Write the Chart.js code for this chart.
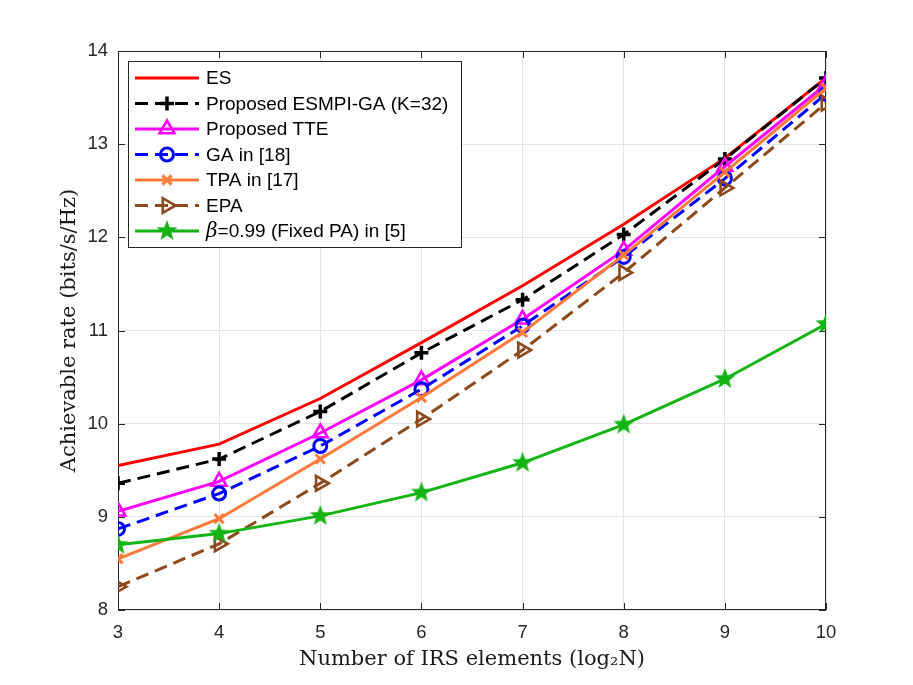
<!DOCTYPE html>
<html>
<head>
<meta charset="utf-8">
<script src="https://cdn.jsdelivr.net/npm/chart.js@4.4.0/dist/chart.umd.min.js"></script>
<style>
  html, body { margin: 0; padding: 0; background: #fff; }
  #wrap { width: 913px; height: 685px; }
</style>
</head>
<body>
<div id="wrap"><canvas id="grafico" width="913" height="685"></canvas></div>
<script>
// valores
const nIRS = [3, 4, 5, 6, 7, 8, 9, 10];
const rateES = [9.55, 9.78, 10.27, 10.87, 11.48, 12.14, 12.85, 13.71];
const rateESMPI = [9.36, 9.62, 10.13, 10.76, 11.33, 12.03, 12.84, 13.71];
const rateTTE = [9.06, 9.38, 9.90, 10.47, 11.12, 11.86, 12.76, 13.64];
const rateGA = [8.87, 9.25, 9.76, 10.37, 11.05, 11.79, 12.63, 13.54];
const rateTPA = [8.55, 8.98, 9.62, 10.28, 10.98, 11.81, 12.70, 13.60];
const rateEPA = [8.25, 8.71, 9.36, 10.05, 10.79, 11.62, 12.53, 13.44];
const rateFixed = [8.70, 8.82, 9.01, 9.26, 9.58, 9.99, 10.48, 11.07];
const yTicks = [8, 9, 10, 11, 12, 13, 14];

const AXIS = "#262626";
const SANS = "'Liberation Sans', Arial, sans-serif";
const SERIF = "'DejaVu Serif', 'Liberation Serif', serif";

// estrela cheia (o 'star' do chart.js é só traço)
function criarEstrela(cor, r) {
  const c = document.createElement("canvas");
  const s = Math.ceil(r * 2 + 4);
  c.width = s; c.height = s;
  const g = c.getContext("2d");
  g.beginPath();
  for (let i = 0; i < 10; i++) {
    const rr = i % 2 === 0 ? r : r * 0.42;
    const a = -Math.PI / 2 + i * Math.PI / 5;
    const px = s / 2 + rr * Math.cos(a), py = s / 2 + rr * Math.sin(a);
    if (i === 0) g.moveTo(px, py); else g.lineTo(px, py);
  }
  g.closePath();
  g.fillStyle = cor;
  g.fill();
  return c;
}
const estrela = criarEstrela("#14b414", 11);

function pts(arr) {
  return arr.map((v, i) => ({ x: nIRS[i], y: v }));
}

const LW = 3;
const DASH = [13, 7];

const series = [
  { label: "ES", data: pts(rateES), borderColor: "#ff0000", borderWidth: LW, pointRadius: 0, pointStyle: false },
  { label: "Proposed ESMPI-GA (K=32)", data: pts(rateESMPI), borderColor: "#000000", borderWidth: LW, borderDash: DASH,
    pointStyle: "cross", pointRadius: 7, pointBorderWidth: 3.5, pointBorderColor: "#000000" },
  { label: "Proposed TTE", data: pts(rateTTE), borderColor: "#ff00ff", borderWidth: LW,
    pointStyle: "triangle", pointRadius: 8.5, pointBorderWidth: 2.6, pointBorderColor: "#ff00ff" },
  { label: "GA in [18]", data: pts(rateGA), borderColor: "#0000ff", borderWidth: LW, borderDash: DASH,
    pointStyle: "circle", pointRadius: 6.5, pointBorderWidth: 3, pointBorderColor: "#0000ff" },
  { label: "TPA in [17]", data: pts(rateTPA), borderColor: "#ff7a3a", borderWidth: LW,
    pointStyle: "crossRot", pointRadius: 6.5, pointBorderWidth: 3, pointBorderColor: "#ff7a3a" },
  { label: "EPA", data: pts(rateEPA), borderColor: "#8c4a1c", borderWidth: LW, borderDash: DASH,
    pointStyle: "triangle", pointRotation: 90, pointRadius: 8.5, pointBorderWidth: 2.6, pointBorderColor: "#8c4a1c" },
  { label: "=0.99 (Fixed PA) in [5]", beta: true, data: pts(rateFixed), borderColor: "#14b414", borderWidth: LW,
    pointStyle: estrela, pointRadius: 11, pointBorderWidth: 0 }
];
// a última série fica por cima, como no matlab
series.forEach((s, i) => {
  s.backgroundColor = "rgba(0,0,0,0)";
  s.pointBackgroundColor = "rgba(0,0,0,0)";
  s.tension = 0;
  s.fill = false;
  s.order = series.length - i;
});

// caixa dos eixos + ticks para dentro
const moldura = {
  id: "moldura",
  beforeDatasetsDraw(chart) {
    const { ctx, chartArea: a, scales } = chart;
    ctx.save();
    ctx.strokeStyle = AXIS;
    ctx.lineWidth = 1;
    ctx.strokeRect(a.left + 0.5, a.top + 0.5, a.right - a.left - 1, a.bottom - a.top - 1);
    ctx.beginPath();
    const tl = 7;
    nIRS.forEach(v => {
      const x = Math.round(scales.x.getPixelForValue(v)) + 0.5;
      ctx.moveTo(x, a.bottom); ctx.lineTo(x, a.bottom - tl);
      ctx.moveTo(x, a.top); ctx.lineTo(x, a.top + tl);
    });
    yTicks.forEach(v => {
      const y = Math.round(scales.y.getPixelForValue(v)) + 0.5;
      ctx.moveTo(a.left, y); ctx.lineTo(a.left + tl, y);
      ctx.moveTo(a.right, y); ctx.lineTo(a.right - tl, y);
    });
    ctx.stroke();
    ctx.restore();
  }
};

// legenda em caixa, estilo matlab
const legendaBox = {
  id: "legendaBox",
  afterDatasetsDraw(chart) {
    const { ctx } = chart;
    const bx = 128, by = 61, bw = 333, bh = 186;
    const rowH = 25.5, y0 = 78;
    ctx.save();
    ctx.fillStyle = "#fff";
    ctx.fillRect(bx, by, bw, bh);
    ctx.strokeStyle = AXIS;
    ctx.lineWidth = 1;
    ctx.strokeRect(bx + 0.5, by + 0.5, bw, bh);
    chart.data.datasets.forEach((ds, i) => {
      const y = y0 + i * rowH;
      ctx.save();
      ctx.strokeStyle = ds.borderColor;
      ctx.lineWidth = ds.borderWidth;
      ctx.setLineDash(ds.borderDash || []);
      ctx.beginPath();
      ctx.moveTo(135, y); ctx.lineTo(199, y);
      ctx.stroke();
      ctx.setLineDash([]);
      if (ds.pointStyle) {
        ctx.fillStyle = "rgba(0,0,0,0)";
        ctx.strokeStyle = ds.pointBorderColor || ds.borderColor;
        ctx.lineWidth = ds.pointBorderWidth || 1;
        Chart.helpers.drawPoint(ctx, {
          pointStyle: ds.pointStyle,
          rotation: ds.pointRotation || 0,
          radius: ds.pointRadius,
          borderWidth: ds.pointBorderWidth
        }, 167, y);
      }
      ctx.restore();
    });
    ctx.textBaseline = "middle";
    ctx.fillStyle = "#000";
    chart.data.datasets.forEach((ds, i) => {
      const y = y0 + i * rowH + 1;
      let x = 206;
      if (ds.beta) {
        ctx.font = "italic 20px " + SERIF;
        ctx.fillText("\u03B2", x, y);
        x += ctx.measureText("\u03B2").width;
      }
      ctx.font = "19px " + SANS;
      ctx.fillText(ds.label, x, y);
    });
    ctx.restore();
  }
};

const chart = new Chart(document.getElementById("grafico"), {
  type: "line",
  data: { datasets: series },
  options: {
    responsive: false,
    animation: false,
    devicePixelRatio: 1,
    layout: { padding: { top: 51, right: 87, left: 0, bottom: 0 } },
    plugins: { legend: { display: false }, tooltip: { enabled: false } },
    scales: {
      x: {
        type: "linear", min: 3, max: 10,
        afterFit: s => { s.height = 75; },
        afterBuildTicks: s => { s.ticks = nIRS.map(v => ({ value: v })); },
        ticks: { color: AXIS, font: { family: SANS, size: 18.5 }, padding: 12 },
        grid: { color: "#e4e4e4", drawTicks: false },
        border: { display: false },
        title: { display: true, text: "Number of IRS elements (log\u2082N)", color: "#1a1a1a",
                 font: { family: SERIF, size: 21 }, padding: { top: 0, bottom: 13 } }
      },
      y: {
        type: "linear", min: 8, max: 14,
        afterFit: s => { s.width = 118; },
        afterBuildTicks: s => { s.ticks = yTicks.map(v => ({ value: v })); },
        ticks: { color: AXIS, font: { family: SANS, size: 18.5 }, padding: 10 },
        grid: { color: "#e4e4e4", drawTicks: false },
        border: { display: false },
        title: { display: true, text: "Achievable rate (bits/s/Hz)", color: "#1a1a1a",
                 font: { family: SERIF, size: 21 }, padding: { top: 57, bottom: 0 } }
      }
    }
  },
  plugins: [moldura, legendaBox]
});
</script>
</body>
</html>
